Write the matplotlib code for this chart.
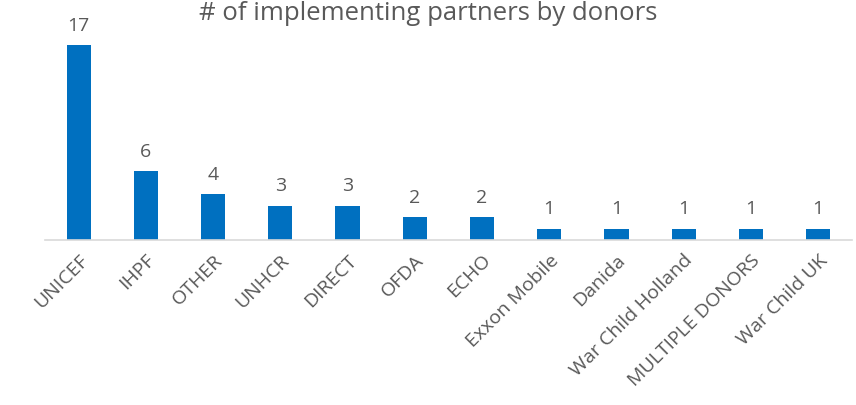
import matplotlib
matplotlib.use("Agg")
import matplotlib.pyplot as plt

# donors and number of implementing partners
donors = ["UNICEF", "IHPF", "OTHER", "UNHCR", "DIRECT", "OFDA", "ECHO",
          "Exxon Mobile", "Danida", "War Child Holland", "MULTIPLE DONORS",
          "War Child UK"]
partners = [17, 6, 4, 3, 3, 2, 2, 1, 1, 1, 1, 1]

BAR_COLOR = "#0070C0"
TEXT_COLOR = "#595959"

plt.rcParams["font.family"] = ["Open Sans", "DejaVu Sans"]

fig = plt.figure(figsize=(8.56, 4.05), dpi=100)
ax = fig.add_axes([0.0526, 0.407, 0.9424, 0.482])

x = range(len(donors))
bars = ax.bar(x, partners, width=0.36, color=BAR_COLOR)
for b, v in zip(bars, partners):
    ax.text(b.get_x() + b.get_width() / 2, v + 0.9, str(v), ha="center",
            va="bottom", fontsize=14, color=TEXT_COLOR, clip_on=False)

ax.set_xlim(-0.5, len(donors) - 0.5)
ax.set_ylim(0, 17)
ax.set_yticks([])
ax.set_xticks(list(x))
ax.set_xticklabels(donors, rotation=45, ha="right", rotation_mode="anchor",
                   fontsize=14, color=TEXT_COLOR)
ax.tick_params(axis="x", length=0, pad=8)
for s in ["top", "right", "left"]:
    ax.spines[s].set_visible(False)
ax.spines["bottom"].set_color("#D9D9D9")
ax.spines["bottom"].set_linewidth(1.2)

fig.text(0.5, 0.997, "# of implementing partners by donors", ha="center",
         va="top", fontsize=18.5, color=TEXT_COLOR)

fig.savefig("out.png", dpi=100)
